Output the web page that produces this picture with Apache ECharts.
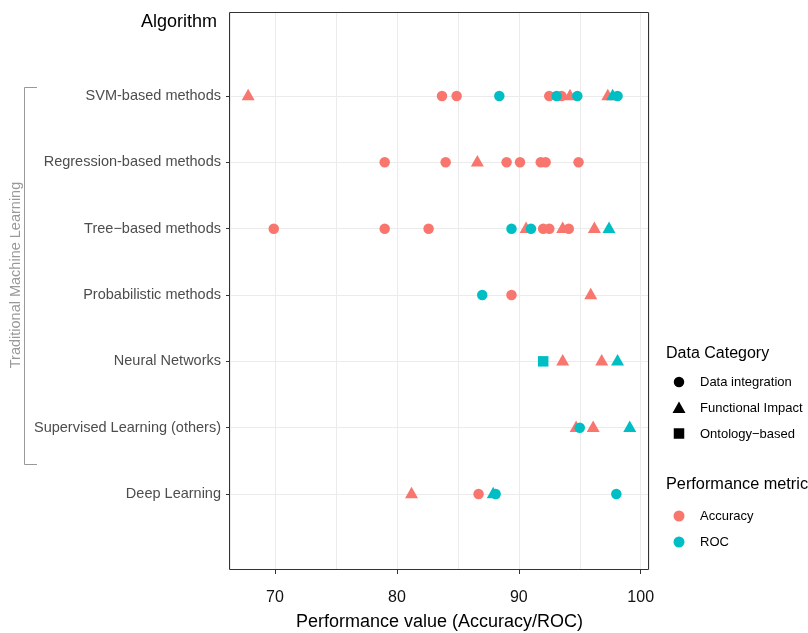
<!DOCTYPE html>
<html>
<head>
<meta charset="utf-8">
<script src="https://cdn.jsdelivr.net/npm/echarts@6/dist/echarts.min.js"></script>
<style>
  html, body { margin: 0; padding: 0; background: #ffffff; }
  #chart { width: 808px; height: 633px; }
</style>
</head>
<body>
<div id="chart"></div>
<script>
// Algorithm families, top to bottom
const algorithms = [
  'SVM-based methods',
  'Regression-based methods',
  'Tree\u2212based methods',
  'Probabilistic methods',
  'Neural Networks',
  'Supervised Learning (others)',
  'Deep Learning'
];
const xTicks = [70, 80, 90, 100];

// Each entry: [performance value, algorithm]
const accuracyIntegration = [
  [83.7, algorithms[0]], [84.9, algorithms[0]], [92.5, algorithms[0]], [93.5, algorithms[0]],
  [79.0, algorithms[1]], [84.0, algorithms[1]], [89.0, algorithms[1]], [90.1, algorithms[1]],
  [91.8, algorithms[1]], [92.2, algorithms[1]], [94.9, algorithms[1]],
  [69.9, algorithms[2]], [79.0, algorithms[2]], [82.6, algorithms[2]], [92.0, algorithms[2]],
  [92.5, algorithms[2]], [94.1, algorithms[2]],
  [89.4, algorithms[3]],
  [86.7, algorithms[6]]
];
const accuracyFunctional = [
  [67.8, algorithms[0]], [94.2, algorithms[0]], [97.3, algorithms[0]],
  [86.6, algorithms[1]],
  [90.6, algorithms[2]], [93.6, algorithms[2]], [96.2, algorithms[2]],
  [95.9, algorithms[3]],
  [93.6, algorithms[4]], [96.8, algorithms[4]],
  [94.7, algorithms[5]], [96.1, algorithms[5]],
  [81.2, algorithms[6]]
];
const rocIntegration = [
  [88.4, algorithms[0]], [93.1, algorithms[0]], [94.8, algorithms[0]], [98.1, algorithms[0]],
  [89.4, algorithms[2]], [91.0, algorithms[2]],
  [87.0, algorithms[3]],
  [95.0, algorithms[5]],
  [88.1, algorithms[6]], [98.0, algorithms[6]]
];
const rocFunctional = [
  [97.7, algorithms[0]],
  [97.4, algorithms[2]],
  [98.1, algorithms[4]],
  [99.1, algorithms[5]],
  [87.9, algorithms[6]]
];
const rocOntology = [
  [92.0, algorithms[4]]
];

const RED = '#F8766D';
const TEAL = '#00BFC4';
const FONT = '"Liberation Sans", Arial, Helvetica, sans-serif';
const X_MIN = 66.31, X_MAX = 100.68;

const CIRCLE = { symbol: 'circle', size: 10.5, offset: [0, 0] };
const TRIANGLE = { symbol: 'triangle', size: [13, 11.5], offset: [0, -1.5] };
const SQUARE = { symbol: 'rect', size: 10.5, offset: [0, 0] };

function points(name, data, shape, color) {
  return {
    name: name,
    type: 'scatter',
    xAxisIndex: 2,
    yAxisIndex: 1,
    data: data,
    symbol: shape.symbol,
    symbolSize: shape.size,
    symbolOffset: shape.offset,
    itemStyle: { color: color, opacity: 1 },
    emphasis: { disabled: true },
    silent: true
  };
}

const chart = echarts.init(document.getElementById('chart'), null, { renderer: 'canvas' });

chart.setOption({
  animation: false,
  backgroundColor: '#ffffff',
  textStyle: { fontFamily: FONT },
  grid: [
    // panel area carrying the x scale
    { left: 230, right: 159, top: 12, bottom: 63, containLabel: false, outerBoundsMode: 'none' },
    // rows of algorithms
    { left: 230, right: 159, top: 96, bottom: 139, containLabel: false, outerBoundsMode: 'none' }
  ],
  xAxis: [
    {
      gridIndex: 0, type: 'value', min: X_MIN, max: X_MAX, position: 'bottom',
      name: 'Performance value (Accuracy/ROC)', nameLocation: 'middle', nameGap: 43,
      nameTextStyle: { fontSize: 18, color: '#000000', fontFamily: FONT },
      axisLine: { show: false },
      axisTick: { show: true, length: 4, inside: false, customValues: xTicks,
        lineStyle: { color: '#333333', width: 1 } },
      axisLabel: { show: true, customValues: xTicks, fontSize: 16, color: '#111111',
        margin: 20, fontFamily: FONT },
      splitLine: { show: false }
    },
    {
      gridIndex: 0, type: 'value', min: X_MIN, max: X_MAX, position: 'bottom',
      axisLine: { show: false }, axisTick: { show: false }, axisLabel: { show: false },
      splitLine: { show: true, lineStyle: { color: '#ebebeb', width: 1 } }
    },
    {
      gridIndex: 1, type: 'value', min: X_MIN, max: X_MAX, show: false,
      splitLine: { show: false }
    }
  ],
  yAxis: [
    { gridIndex: 0, type: 'value', show: false, splitLine: { show: false } },
    {
      gridIndex: 1, type: 'category', data: algorithms, boundaryGap: false, inverse: true,
      axisLine: { show: false },
      axisTick: { show: true, length: 4, inside: false, lineStyle: { color: '#333333', width: 1 } },
      axisLabel: { show: true, interval: 0, fontSize: 14.5, color: '#4d4d4d', margin: 9, fontFamily: FONT },
      splitLine: { show: true, lineStyle: { color: '#ebebeb', width: 1 } }
    }
  ],
  series: [
    points('Accuracy / Data integration', accuracyIntegration, CIRCLE, RED),
    points('Accuracy / Functional Impact', accuracyFunctional, TRIANGLE, RED),
    points('ROC / Data integration', rocIntegration, CIRCLE, TEAL),
    points('ROC / Functional Impact', rocFunctional, TRIANGLE, TEAL),
    points('ROC / Ontology-based', rocOntology, SQUARE, TEAL)
  ],
  graphic: [
    // panel border
    { type: 'rect', z: 100, silent: true,
      shape: { x: 229.5, y: 12.5, width: 419, height: 557 },
      style: { fill: null, stroke: '#333333', lineWidth: 1 } },
    // y-axis title
    { type: 'text', x: 217, y: 22, style: { text: 'Algorithm', fill: '#000000',
      font: '18px ' + FONT, align: 'right', verticalAlign: 'middle' } },
    // bracket grouping the traditional methods
    { type: 'polyline', shape: { points: [[37, 87.5], [24.5, 87.5], [24.5, 464.5], [37, 464.5]] },
      style: { stroke: '#999999', lineWidth: 1, fill: null } },
    { type: 'text', x: 16, y: 275, rotation: Math.PI / 2,
      style: { text: 'Traditional Machine Learning', fill: '#999999',
        font: '14.5px ' + FONT, align: 'center', verticalAlign: 'middle' } },

    // legend: data category
    { type: 'text', x: 666, y: 354, style: { text: 'Data Category', fill: '#000000',
      font: '16px ' + FONT, align: 'left', verticalAlign: 'middle' } },
    { type: 'circle', shape: { cx: 679, cy: 382, r: 5.25 }, style: { fill: '#000000' } },
    { type: 'text', x: 700, y: 382, style: { text: 'Data integration', fill: '#000000',
      font: '13px ' + FONT, align: 'left', verticalAlign: 'middle' } },
    { type: 'polygon', shape: { points: [[672.5, 413], [685.5, 413], [679, 401.5]] },
      style: { fill: '#000000' } },
    { type: 'text', x: 700, y: 408, style: { text: 'Functional Impact', fill: '#000000',
      font: '13px ' + FONT, align: 'left', verticalAlign: 'middle' } },
    { type: 'rect', shape: { x: 673.75, y: 428.25, width: 10.5, height: 10.5 },
      style: { fill: '#000000' } },
    { type: 'text', x: 700, y: 434, style: { text: 'Ontology\u2212based', fill: '#000000',
      font: '13px ' + FONT, align: 'left', verticalAlign: 'middle' } },

    // legend: performance metric
    { type: 'text', x: 666, y: 485, style: { text: 'Performance metric', fill: '#000000',
      font: '16.3px ' + FONT, align: 'left', verticalAlign: 'middle' } },
    { type: 'circle', shape: { cx: 679, cy: 516, r: 5.5 }, style: { fill: RED } },
    { type: 'text', x: 700, y: 516, style: { text: 'Accuracy', fill: '#000000',
      font: '13px ' + FONT, align: 'left', verticalAlign: 'middle' } },
    { type: 'circle', shape: { cx: 679, cy: 542, r: 5.5 }, style: { fill: TEAL } },
    { type: 'text', x: 700, y: 542, style: { text: 'ROC', fill: '#000000',
      font: '13px ' + FONT, align: 'left', verticalAlign: 'middle' } }
  ]
});
</script>
</body>
</html>
